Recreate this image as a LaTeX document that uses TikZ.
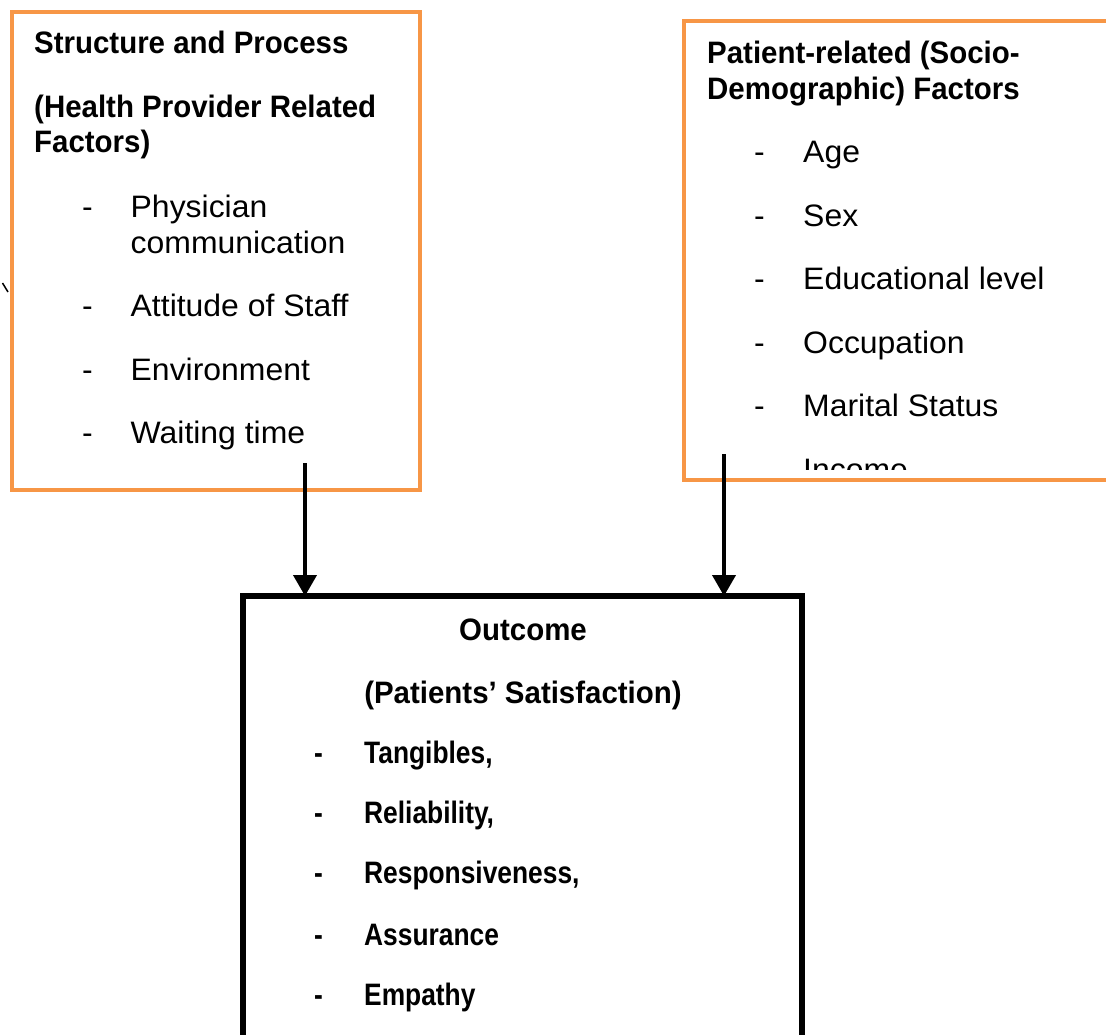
\documentclass[tikz,border=0pt]{standalone}
\usepackage{fontspec}
\setmainfont{Liberation Sans}
\newfontfamily\rgfont[FakeStretch=1.03]{Liberation Sans}
\newfontfamily\hdfont[FakeStretch=0.95]{Liberation Sans}
\newfontfamily\itfont[FakeStretch=0.85]{Liberation Sans}
\usetikzlibrary{arrows.meta}
\definecolor{boxorange}{HTML}{F79646}
\tikzset{
  obox/.style={draw=boxorange, line width=4.5pt, outer sep=0pt, inner sep=0pt, anchor=north west},
  kbox/.style={draw=black, line width=5.5pt, outer sep=0pt, inner sep=0pt, anchor=north west},
  reg/.style={anchor=base west, inner sep=0pt, font=\rgfont\fontsize{31}{37}\selectfont},
  head/.style={anchor=base west, inner sep=0pt, font=\hdfont\bfseries\fontsize{31}{37}\selectfont},
  headc/.style={anchor=base, inner sep=0pt, font=\hdfont\bfseries\fontsize{31}{37}\selectfont},
  item/.style={anchor=base west, inner sep=0pt, font=\itfont\bfseries\fontsize{31}{37}\selectfont},
  arr/.style={draw=black, line width=4pt, -{Triangle[width=23pt,length=21pt]}}
}
\begin{document}
\begin{tikzpicture}[x=1pt,y=-1pt]
\useasboundingbox (0,0) rectangle (1106,1034);
\clip (0,0) rectangle (1106,1034);

% boxes
\node[obox, minimum width=408pt, minimum height=478pt] (lbox) at (12,12) {};
\node[obox, minimum width=480pt, minimum height=459pt] (rbox) at (684,21) {};
\node[kbox, minimum width=559pt, minimum height=500pt] (outbox) at (243,596) {};

% small stray mark
\coordinate (m1) at (2.5,283);
\coordinate (m2) at (8,292);
\draw[line width=1.5pt] (m1) -- (m2);

% left box text
\node[head] (l1) at (34,53) {Structure and Process};
\node[head] (l2) at (34,117) {(Health Provider Related};
\node[head] (l3) at (34,152) {Factors)};
\node[reg] (ld1) at (82,217) {-};
\node[reg] (li1) at (130.5,217) {Physician};
\node[reg] (li1b) at (130.5,253) {communication};
\node[reg] (ld2) at (82,316) {-};
\node[reg] (li2) at (130.5,316) {Attitude of Staff};
\node[reg] (ld3) at (82,380) {-};
\node[reg] (li3) at (130.5,380) {Environment};
\node[reg] (ld4) at (82,443) {-};
\node[reg] (li4) at (130.5,443) {Waiting time};

% right box text
\node[head] (r1) at (707,63) {Patient-related (Socio-};
\node[head] (r2) at (707,99) {Demographic) Factors};
\node[reg] (rd1) at (754,162) {-};
\node[reg] (ri1) at (803,162) {Age};
\node[reg] (rd2) at (754,226) {-};
\node[reg] (ri2) at (803,226) {Sex};
\node[reg] (rd3) at (754,289) {-};
\node[reg] (ri3) at (803,289) {Educational level};
\node[reg] (rd4) at (754,353) {-};
\node[reg] (ri4) at (803,353) {Occupation};
\node[reg] (rd5) at (754,416) {-};
\node[reg] (ri5) at (803,416) {Marital Status};
\begin{scope}
\clip (684,21) rectangle (1106,469);
\node[reg] (ri6) at (803,480) {Income};
\end{scope}

% outcome box text
\node[headc] (o1) at (523,640) {Outcome};
\node[headc] (o2) at (523,703) {(Patients’ Satisfaction)};
\node[item] (od1) at (314,763) {-};
\node[item] (oi1) at (364,763) {Tangibles,};
\node[item] (od2) at (314,823) {-};
\node[item] (oi2) at (364,823) {Reliability,};
\node[item] (od3) at (314,883) {-};
\node[item] (oi3) at (364,883) {Responsiveness,};
\node[item] (od4) at (314,945) {-};
\node[item] (oi4) at (364,945) {Assurance};
\node[item] (od5) at (314,1005) {-};
\node[item] (oi5) at (364,1005) {Empathy};

% arrows
\coordinate (a1) at (305,463);
\coordinate (a2) at (724,454);
\draw[arr] (a1) -- (a1 |- outbox.north);
\draw[arr] (a2) -- (a2 |- outbox.north);
\end{tikzpicture}
\end{document}
